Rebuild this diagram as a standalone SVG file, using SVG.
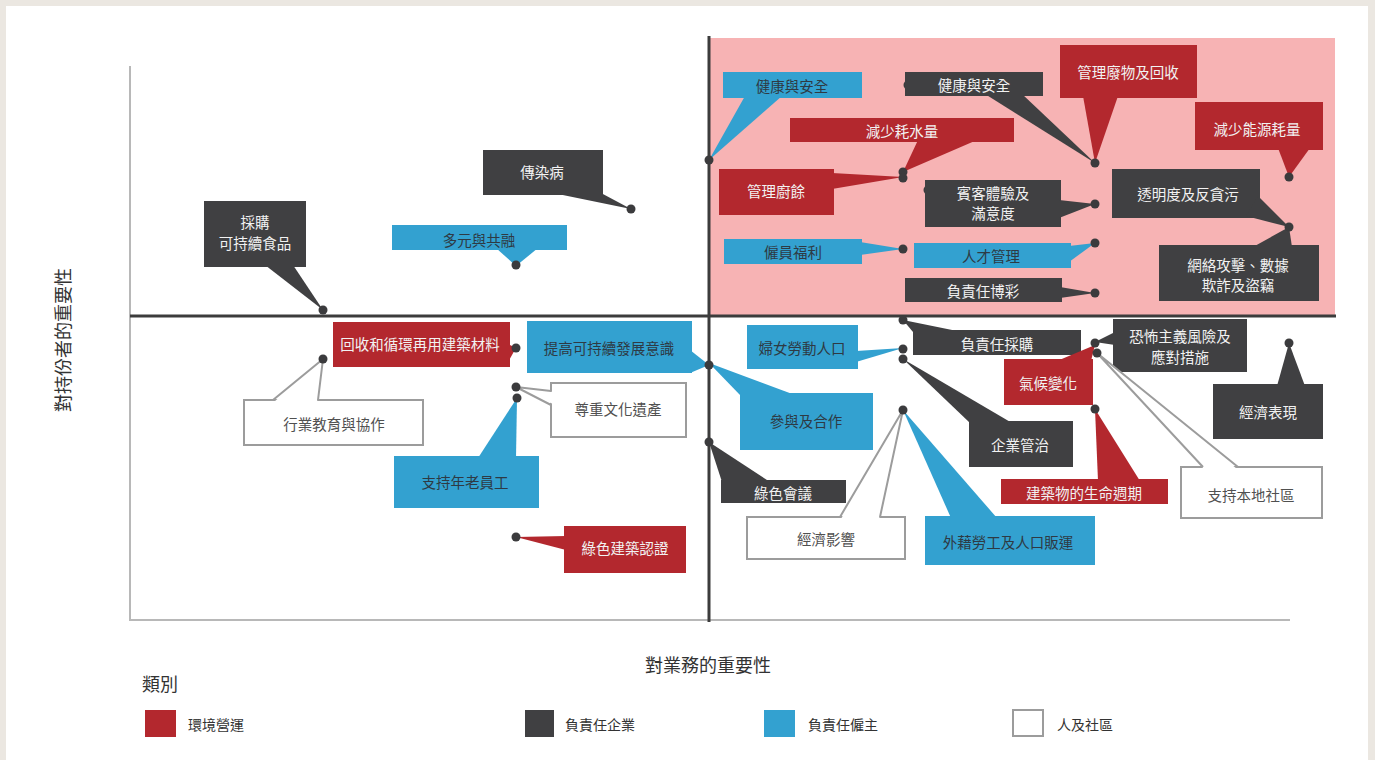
<svg xmlns="http://www.w3.org/2000/svg" width="1375" height="760" viewBox="0 0 1375 760">
<style>
text{font-family:"Noto Sans CJK TC","Noto Sans CJK SC",sans-serif;font-size:14.5px;text-anchor:middle;dominant-baseline:central}
.r{fill:#b3282e}.d{fill:#404042}.b{fill:#33a1d0}.w{fill:#fff;stroke:#9c9c9c;stroke-width:2}
.tw{fill:#f2f2f2}.td{fill:#2e3a44}.tg{fill:#505050}
.wt{fill:#fff;stroke:none}.wl{fill:none;stroke:#9c9c9c;stroke-width:2;stroke-linejoin:round}
.dot{fill:#3b3b3d}
.lab{fill:#333;font-size:18px}
.leg{fill:#333;font-size:14px;text-anchor:start}
</style>
<rect x="0" y="0" width="1375" height="760" fill="#ebe7e1"/>
<rect x="6" y="6" width="1362" height="754" fill="#fff"/>
<rect x="710" y="38" width="625" height="277" fill="#f7b3b4"/>
<g id="axes">
<path d="M130 66 V620 H1290" fill="none" stroke="#b8b8b8" stroke-width="2"/>
<line x1="709" y1="36" x2="709" y2="622" stroke="#3c3c3c" stroke-width="3"/>
<line x1="130" y1="316" x2="1336" y2="316" stroke="#3c3c3c" stroke-width="3"/>
<text class="lab" x="708" y="664">對業務的重要性</text>
<text class="lab" transform="translate(62,340) rotate(-90)">對持份者的重要性</text>
</g>
<g id="hidden-dots">
<circle class="dot" cx="908" cy="85" r="4.5"/>
<circle class="dot" cx="928" cy="190" r="4.5"/>
</g>
<g id="n1"><rect class="b" x="723" y="72" width="139" height="26"/><text class="td" x="792" y="85">健康與安全</text></g>
<g id="n2"><rect class="d" x="905" y="72" width="138" height="24"/><text class="tw" x="974" y="84">健康與安全</text></g>
<g id="n3"><rect class="r" x="790" y="118" width="224" height="24"/><text class="tw" x="902" y="130">減少耗水量</text></g>
<g id="n4"><rect class="r" x="719" y="169" width="115" height="46"/><text class="tw" x="776" y="190">管理廚餘</text></g>
<g id="n5"><rect class="d" x="925" y="180" width="136" height="47"/><text class="tw" x="993" y="192">賓客體驗及</text><text class="tw" x="993" y="212">滿意度</text></g>
<g id="n6"><rect class="b" x="724" y="239" width="138" height="25"/><text class="td" x="793" y="251">僱員福利</text></g>
<g id="n7"><rect class="b" x="914" y="243" width="157" height="25"/><text class="td" x="991" y="255">人才管理</text></g>
<g id="n8"><rect class="d" x="905" y="278" width="157" height="24"/><text class="tw" x="983" y="290">負責任博彩</text></g>
<g id="n9"><rect class="r" x="1060" y="45" width="137" height="53"/><text class="tw" x="1128" y="71">管理廢物及回收</text></g>
<g id="n10"><rect class="r" x="1195" y="102" width="128" height="48"/><text class="tw" x="1257" y="128">減少能源耗量</text></g>
<g id="n11"><rect class="d" x="1112" y="169" width="148" height="49"/><text class="tw" x="1188" y="193">透明度及反貪污</text></g>
<g id="n12"><rect class="d" x="1159" y="245" width="160" height="56"/><text class="tw" x="1238" y="264">網絡攻擊、數據</text><text class="tw" x="1238" y="284">欺詐及盜竊</text></g>
<g id="n13"><rect class="d" x="913" y="330" width="168" height="25"/><text class="tw" x="997" y="343">負責任採購</text></g>
<g id="n14"><rect class="b" x="747" y="325" width="111" height="44"/><text class="td" x="802" y="347">婦女勞動人口</text></g>
<g id="n15"><rect class="d" x="969" y="421" width="104" height="46"/><text class="tw" x="1020" y="444">企業管治</text></g>
<g id="n16"><rect class="b" x="740" y="393" width="133" height="57"/><text class="td" x="806" y="420">參與及合作</text></g>
<g id="n17"><rect class="d" x="721" y="480" width="125" height="23"/><text class="tw" x="783" y="492">綠色會議</text></g>
<g id="n18"><rect class="w" x="747" y="517" width="158" height="42"/><text class="tg" x="826" y="538">經濟影響</text></g>
<g id="n19"><rect class="b" x="925" y="516" width="170" height="49"/><text class="td" x="1008" y="541">外藉勞工及人口販運</text></g>
<g id="n20"><rect class="r" x="1004" y="359" width="89" height="46"/><text class="tw" x="1048" y="382">氣候變化</text></g>
<g id="n21"><rect class="d" x="1113" y="319" width="134" height="53"/><text class="tw" x="1180" y="335">恐怖主義風險及</text><text class="tw" x="1180" y="356">應對措施</text></g>
<g id="n22"><rect class="w" x="1181" y="467" width="141" height="51"/><text class="tg" x="1251" y="494">支持本地社區</text></g>
<g id="n23"><rect class="r" x="1001" y="479" width="167" height="25"/><text class="tw" x="1084" y="492">建築物的生命週期</text></g>
<g id="n24"><rect class="d" x="1213" y="384" width="110" height="55"/><text class="tw" x="1268" y="411">經濟表現</text></g>
<g id="n25"><rect class="d" x="483" y="150" width="120" height="45"/><text class="tw" x="542" y="171">傳染病</text></g>
<g id="n26"><rect class="b" x="392" y="225" width="175" height="25"/><text class="td" x="479" y="239">多元與共融</text></g>
<g id="n27"><rect class="d" x="204" y="201" width="102" height="66"/><text class="tw" x="255" y="221">採購</text><text class="tw" x="255" y="242">可持續食品</text></g>
<g id="n28"><rect class="r" x="333" y="322" width="177" height="45"/><text class="tw" x="420" y="343">回收和循環再用建築材料</text></g>
<g id="n29"><rect class="w" x="244" y="400" width="179" height="45"/><text class="tg" x="334" y="423">行業教育與協作</text></g>
<g id="n30"><rect class="w" x="551" y="383" width="135" height="54"/><text class="tg" x="618" y="408">尊重文化遺產</text></g>
<g id="n31"><rect class="b" x="394" y="456" width="145" height="52"/><text class="td" x="465" y="481">支持年老員工</text></g>
<g id="n32"><rect class="r" x="564" y="526" width="122" height="47"/><text class="tw" x="625" y="547">綠色建築認證</text></g>
<g id="n33"><rect class="b" x="527" y="321" width="165" height="52"/><text class="td" x="609" y="347">提高可持續發展意識</text></g>
<g id="connectors">
<polygon class="b" points="745,96 782,96 709,160"/>
<polygon class="d" points="985,94 1022,94 1095,163"/>
<polygon class="r" points="918,140 977,140 903,172"/>
<polygon class="r" points="832,173 832,189 903,177"/>
<polygon class="d" points="1059,200 1059,218 1095,204"/>
<polygon class="b" points="860,242 860,255 903,249"/>
<polygon class="b" points="1069,246 1069,262 1095,243"/>
<polygon class="d" points="1060,287 1060,298 1095,293"/>
<polygon class="r" points="1083,96 1118,96 1095,163"/>
<polygon class="r" points="1278,148 1310,148 1289,177"/>
<polygon class="d" points="1258,196 1289,227 1246,216"/>
<polygon class="d" points="1253,247 1292,247 1289,227"/>
<polygon class="d" points="913,332 962,332 903,320"/>
<polygon class="b" points="856,351 856,362 903,348"/>
<polygon class="d" points="970,423 1012,423 903,359"/>
<polygon class="b" points="709,363 795,395 740,395"/>
<polygon class="d" points="722,482 770,482 709,442"/>
<polygon class="wt" points="841,519 879,519 903,410"/>
<polyline class="wl" points="840,517 903,410 880,517"/>
<polygon class="b" points="951,518 997,518 903,410"/>
<polygon class="r" points="1057,361 1091,361 1095,345"/>
<polygon class="d" points="1115,332 1115,345 1095,342"/>
<polygon class="wt" points="1204,469 1237,469 1097,353"/>
<polyline class="wl" points="1203,467 1097,353 1238,467"/>
<polygon class="r" points="1098,481 1140,481 1095,409"/>
<polygon class="d" points="1277,386 1305,386 1289,343"/>
<polygon class="d" points="553,193 601,193 631,209"/>
<polygon class="b" points="496,248 538,248 516,266"/>
<polygon class="d" points="265,265 293,265 323,310"/>
<polygon class="r" points="508,344 508,362 516,348"/>
<polygon class="wt" points="274,402 317,402 323,359"/>
<polyline class="wl" points="273,400 323,359 318,400"/>
<polygon class="wt" points="553,392 553,404 516,387"/>
<polyline class="wl" points="551,391 516,387 551,405"/>
<polygon class="b" points="478,458 516,458 517,398"/>
<polygon class="r" points="566,536 566,550 516,537"/>
<polygon class="b" points="690,350 690,373 709,365"/>
<g id="dots">
<circle class="dot" cx="709" cy="160" r="4.5"/>
<circle class="dot" cx="903" cy="172" r="4.5"/>
<circle class="dot" cx="903" cy="178" r="4.5"/>
<circle class="dot" cx="1095" cy="163" r="4.5"/>
<circle class="dot" cx="1095" cy="204" r="4.5"/>
<circle class="dot" cx="1095" cy="243" r="4.5"/>
<circle class="dot" cx="1095" cy="293" r="4.5"/>
<circle class="dot" cx="903" cy="249" r="4.5"/>
<circle class="dot" cx="1289" cy="177" r="4.5"/>
<circle class="dot" cx="1289" cy="227" r="4.5"/>
<circle class="dot" cx="631" cy="209" r="4.5"/>
<circle class="dot" cx="516" cy="265" r="4.5"/>
<circle class="dot" cx="323" cy="310" r="4.5"/>
<circle class="dot" cx="516" cy="348" r="4.5"/>
<circle class="dot" cx="323" cy="359" r="4.5"/>
<circle class="dot" cx="516" cy="387" r="4.5"/>
<circle class="dot" cx="517" cy="398" r="4.5"/>
<circle class="dot" cx="516" cy="537" r="4.5"/>
<circle class="dot" cx="709" cy="365" r="4.5"/>
<circle class="dot" cx="709" cy="442" r="4.5"/>
<circle class="dot" cx="903" cy="320" r="4.5"/>
<circle class="dot" cx="903" cy="349" r="4.5"/>
<circle class="dot" cx="903" cy="359" r="4.5"/>
<circle class="dot" cx="903" cy="410" r="4.5"/>
<circle class="dot" cx="1095" cy="343" r="4.5"/>
<circle class="dot" cx="1097" cy="353" r="4.5"/>
<circle class="dot" cx="1095" cy="409" r="4.5"/>
<circle class="dot" cx="1289" cy="343" r="4.5"/>
</g>
</g>
<g id="legend">
<text class="lab" x="142" y="683" style="text-anchor:start">類別</text>
<rect class="r" x="145" y="710" width="31" height="27"/>
<text class="leg" x="188" y="724">環境營運</text>
<rect class="d" x="525" y="710" width="29" height="27"/>
<text class="leg" x="565" y="724">負責任企業</text>
<rect class="b" x="764" y="710" width="31" height="27"/>
<text class="leg" x="808" y="724">負責任僱主</text>
<rect class="w" x="1013" y="710" width="30" height="26"/>
<text class="leg" x="1057" y="724">人及社區</text>
</g>
</svg>
